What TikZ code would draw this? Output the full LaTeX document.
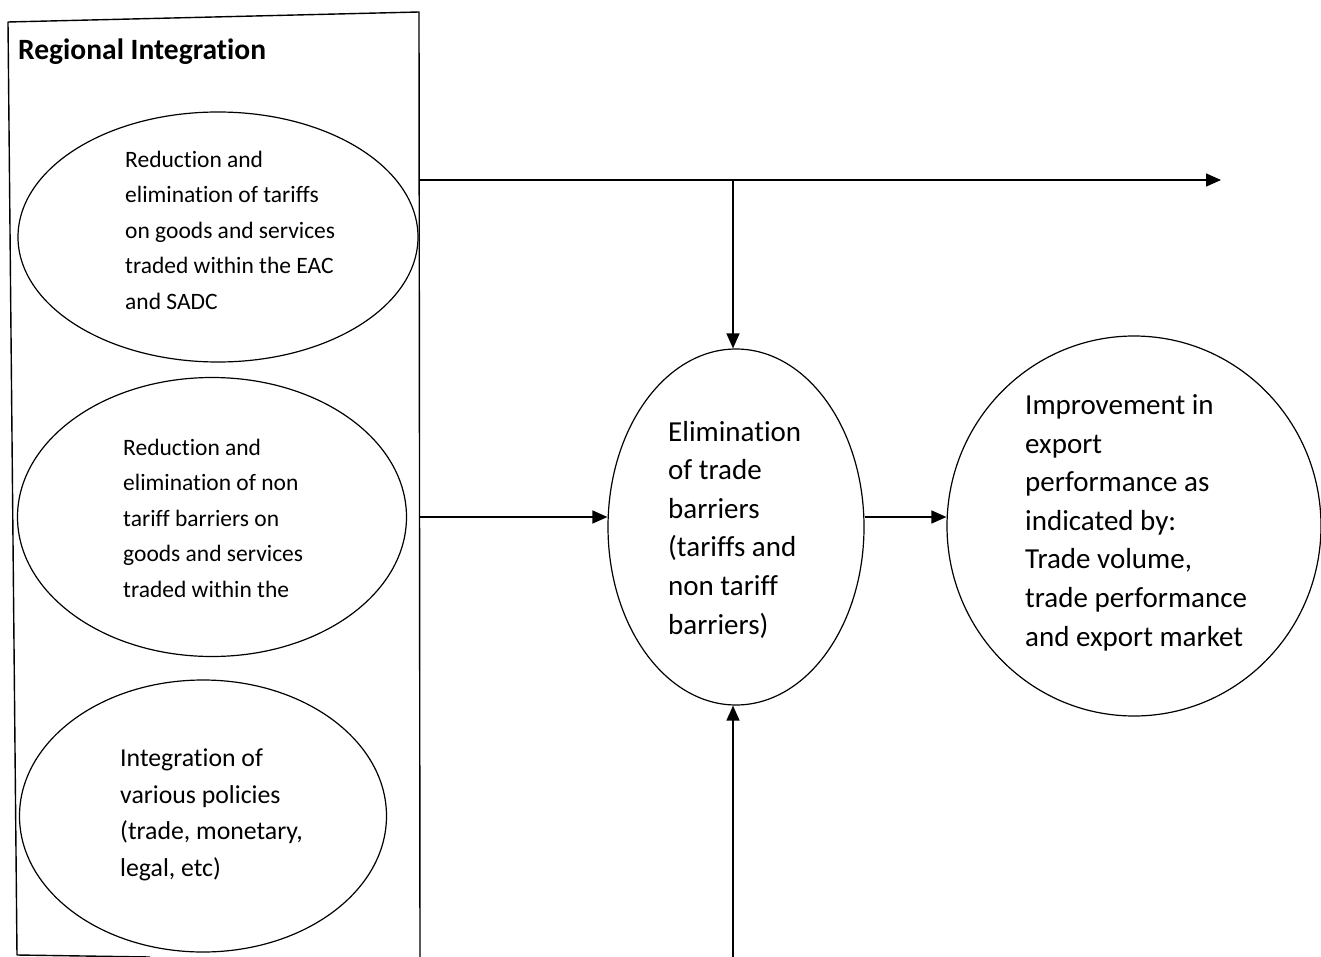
\documentclass[tikz,border=0pt]{standalone}
\usepackage{fontspec}
\setmainfont{Carlito}[Ligatures=NoCommon]
\usetikzlibrary{shapes.geometric,arrows.meta}
\begin{document}
\begin{tikzpicture}[x=1pt,y=-1pt,
  oval/.style={draw,ellipse,line width=1.2pt,inner sep=0pt},
  lbl/.style={anchor=base west,align=left,inner sep=0pt},
  small/.style={font=\fontsize{23.5}{35.5}\selectfont},
  mid/.style={font=\fontsize{25.8}{36.4}\selectfont},
  big/.style={font=\fontsize{29}{38.6}\selectfont},
  conn/.style={line width=1.4pt,-{Triangle[length=15pt,width=13pt]}},
  plain/.style={line width=1.4pt}]
\useasboundingbox (0,0) rectangle (1321,957);
\clip (0,0) rectangle (1321,957);
% frame of the group
\coordinate (bTL) at (8,22);
\coordinate (bTR) at (419,12);
\coordinate (bBR) at (420,962);
\coordinate (bBL) at (17,955);
\coordinate (bBM) at (150,957);
\draw[line width=1.4pt,line join=round] (bBM) -- (bBL) -- (bTL) -- (bTR) -- (bBR);
\node[lbl,font=\fontsize{29.5}{34}\selectfont\bfseries] (title) at (18,60) {Regional Integration};
% ellipses
\node[oval,minimum width=400pt,minimum height=250pt] (e1) at (218,237) {};
\node[oval,minimum width=389pt,minimum height=279pt] (e2) at (212,517) {};
\node[oval,minimum width=367pt,minimum height=272pt] (e3) at (203,816) {};
\node[oval,minimum width=256pt,minimum height=356pt] (e4) at (736,527) {};
\node[oval,minimum width=374pt,minimum height=380pt] (e5) at (1134,526) {};
% texts (anchored at the baseline of their last line)
\node[lbl,small] (t1) at (125,309) {Reduction and\\elimination of tariffs\\on goods and services\\traded within the EAC\\and SADC};
\node[lbl,small] (t2) at (123,597) {Reduction and\\elimination of non\\tariff barriers on\\goods and services\\traded within the};
\node[lbl,mid] (t3) at (120,876) {Integration of\\various policies\\(trade, monetary,\\legal, etc)};
\node[lbl,big] (t4) at (668,634) {Elimination\\of trade\\barriers\\(tariffs and\\non tariff\\barriers)};
\node[lbl,big] (t5) at (1025,646) {Improvement in\\export\\performance as\\indicated by:\\Trade volume,\\trade performance\\and export market};
% connectors
\coordinate (s1) at (420,180);
\coordinate (j1) at (733,180);
\coordinate (o1) at (1221,180);
\coordinate (s2) at (420,517);
\coordinate (s3) at (733,962);
\draw[conn] (s1) -- (o1);
\draw[conn] (j1) -- (j1 |- e4.north);
\draw[conn] (s2) -- (s2 -| e4.west);
\draw[conn] (e4.east |- 0,517) -- (e5.west |- 0,517);
\draw[conn] (s3) -- (s3 |- e4.south);
\end{tikzpicture}
\end{document}
